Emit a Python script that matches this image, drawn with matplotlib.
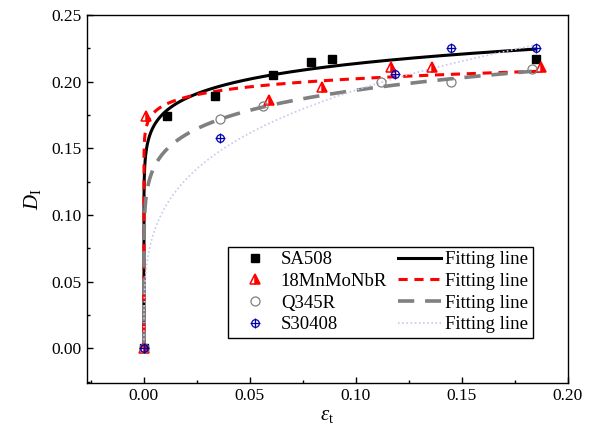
import numpy as np
import matplotlib
matplotlib.use("Agg")
import matplotlib.pyplot as plt
from matplotlib.ticker import MultipleLocator, FormatStrFormatter
from matplotlib.legend_handler import HandlerTuple

plt.rcParams['font.family'] = ['Liberation Serif', 'DejaVu Serif']
plt.rcParams['mathtext.fontset'] = 'custom'
plt.rcParams['mathtext.rm'] = 'Liberation Serif'
plt.rcParams['mathtext.it'] = 'Liberation Serif:italic'

# ---- data ----
materials = ["SA508", "18MnMoNbR", "Q345R", "S30408"]

sa508_x = [0.0, 0.0108, 0.0337, 0.0608, 0.079, 0.089, 0.185]
sa508_y = [0.0, 0.174, 0.189, 0.205, 0.215, 0.217, 0.217]

mn_x = [0.0, 0.001, 0.059, 0.084, 0.1165, 0.136, 0.1875]
mn_y = [0.0, 0.174, 0.186, 0.196, 0.211, 0.211, 0.211]

q345_x = [0.0, 0.0357, 0.056, 0.112, 0.145, 0.183]
q345_y = [0.0, 0.172, 0.182, 0.1994, 0.200, 0.2095]

s304_x = [0.0, 0.036, 0.1185, 0.145, 0.185]
s304_y = [0.0, 0.158, 0.206, 0.225, 0.225]

# power-law fitting lines D = a * eps^b (parameters)
fit_a = [0.2572, 0.2237, 0.2533, 0.354]
fit_b = [0.0807, 0.0439, 0.1167, 0.262]
fit_xmax = [0.185, 0.187, 0.183, 0.185]

x_ticks = [0.00, 0.05, 0.10, 0.15, 0.20]
y_ticks = [0.00, 0.05, 0.10, 0.15, 0.20, 0.25]

fig = plt.figure(figsize=(5.93, 4.41), dpi=100)
ax = fig.add_axes([0.1462, 0.1322, 0.9573 - 0.1462, 0.966 - 0.1322])

line_styles = [
    dict(color='black', lw=2.2, ls='-'),
    dict(color='#ff0000', lw=2.2, ls=(0, (3.0, 2.2))),
    dict(color='#808080', lw=2.6, ls=(0, (4.5, 3.0))),
    dict(color='#c8c8f0', lw=1.2, ls=(0, (1, 1.5))),
]

line_handles = []
for i in range(4):
    xs = np.concatenate([[0.0], np.logspace(-8, np.log10(fit_xmax[i]), 500)])
    ys = fit_a[i] * xs ** fit_b[i]
    h, = ax.plot(xs, ys, zorder=2, **line_styles[i])
    line_handles.append(h)

# markers
h1, = ax.plot(sa508_x, sa508_y, ls='none', marker='s', ms=5.5, color='black', zorder=4)
h2, = ax.plot(mn_x, mn_y, ls='none', marker='^', ms=7, mfc='#ff0000', mfcalt='white',
              fillstyle='right', mec='#ff0000', mew=1.1, zorder=4)
h3, = ax.plot(q345_x, q345_y, ls='none', marker='o', ms=6.5, mfc='none', mec='#808080',
              mew=0.9, zorder=4)
h4a, = ax.plot(s304_x, s304_y, ls='none', marker='o', ms=5.5, mfc='none', mec='#0000b0',
               mew=0.9, zorder=5)
h4b, = ax.plot(s304_x, s304_y, ls='none', marker='+', ms=7.5, mec='#0000b0',
               mew=0.9, zorder=5)

ax.set_xlim(-0.027, 0.20)
ax.set_ylim(-0.0257, 0.25)
ax.xaxis.set_minor_locator(MultipleLocator(0.025))
ax.yaxis.set_minor_locator(MultipleLocator(0.025))
ax.set_xticks(x_ticks)
ax.set_yticks(y_ticks)
ax.xaxis.set_major_formatter(FormatStrFormatter('%.2f'))
ax.yaxis.set_major_formatter(FormatStrFormatter('%.2f'))
ax.tick_params(which='both', direction='in', top=False, right=False, labelsize=12.5, width=1.0)
ax.tick_params(which='major', length=4.5)
ax.tick_params(which='minor', length=2)
for s in ax.spines.values():
    s.set_linewidth(1.0)

ax.set_xlabel(r'$\varepsilon_\mathrm{t}$', fontsize=15, labelpad=2)
ax.set_ylabel(r'$D_\mathrm{I}$', fontsize=15, labelpad=6)

handles = [h1, h2, h3, (h4a, h4b)] + line_handles
labels = materials + ["Fitting line"] * 4
leg = ax.legend(handles, labels, ncol=2, loc='lower right',
                bbox_to_anchor=(0.928, 0.1216), borderaxespad=0.0,
                fontsize=13.5, frameon=True, fancybox=False,
                edgecolor='black', framealpha=1, labelspacing=0.24, handlelength=2.3,
                handletextpad=0.25, columnspacing=0.55, borderpad=0.25,
                handler_map={tuple: HandlerTuple(ndivide=1)})
leg.get_frame().set_linewidth(1.0)

fig.savefig('out.png', dpi=100)
